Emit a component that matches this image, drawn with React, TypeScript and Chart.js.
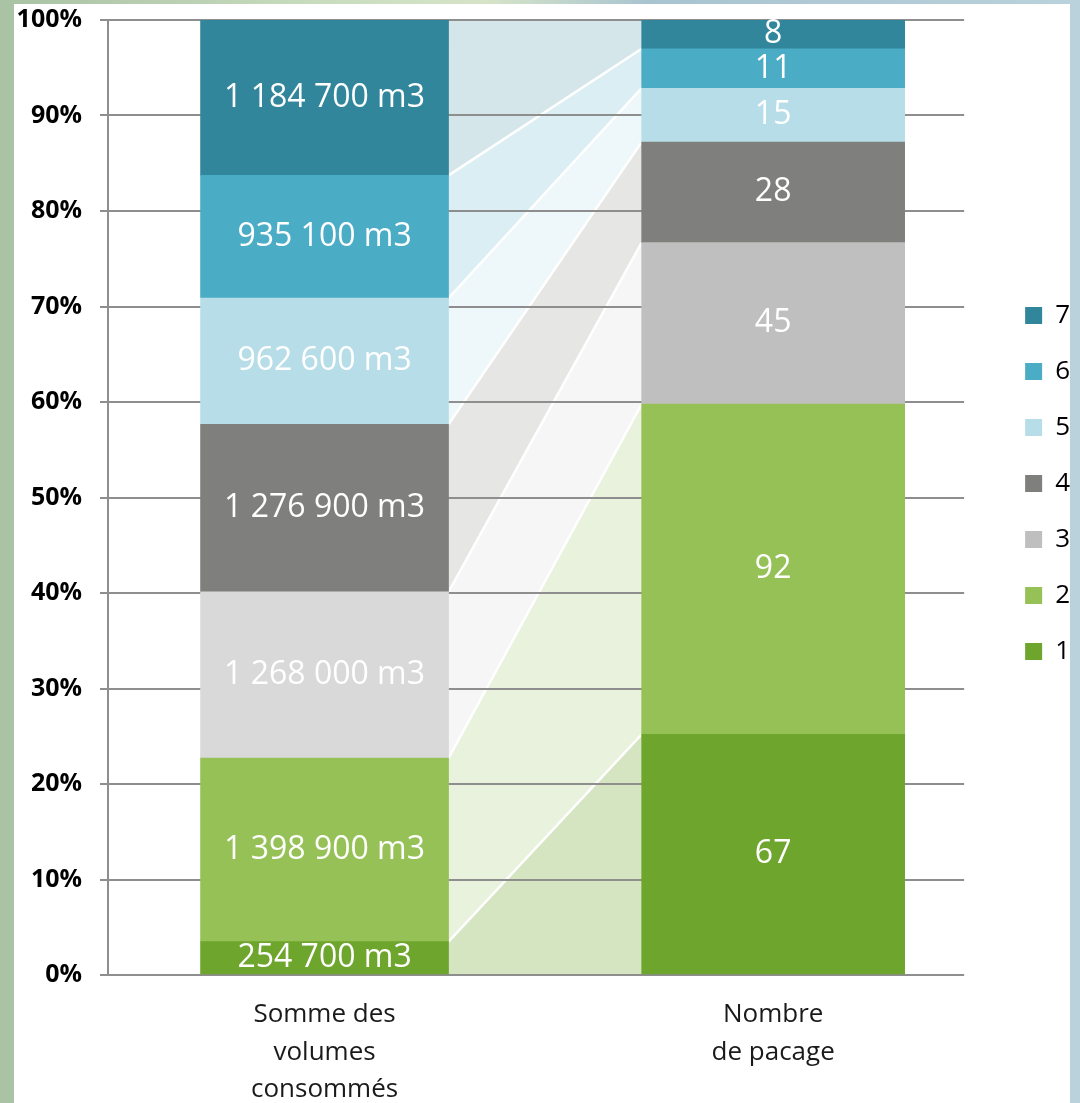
import React, { useEffect, useRef } from 'react';
import { Chart, registerables } from 'chart.js';

Chart.register(...registerables);

// ---- Data ----
const categories: string[][] = [
  ['Somme des', 'volumes', 'consommés'],
  ['Nombre', 'de pacage'],
];
const seriesNames = ['1', '2', '3', '4', '5', '6', '7'];
const volumes = [254700, 1398900, 1268000, 1276900, 962600, 935100, 1184700];
const pacages = [67, 92, 45, 28, 15, 11, 8];
const yTickStep = 10;

// ---- Styles ----
const leftColors = ['#6ea52d', '#96c156', '#d9d9d9', '#7f7f7e', '#b7dee8', '#4bacc6', '#31869b'];
const rightColors = ['#6ea52d', '#96c156', '#bfbfbf', '#7f7f7e', '#b7dee8', '#4bacc6', '#31869b'];
const bandColors = ['#d5e4c1', '#e9f2dd', '#f6f6f6', '#e6e6e5', '#eef7f9', '#dbeef4', '#d5e6eb'];
const FONT = '"Open Sans", "DejaVu Sans", sans-serif';
const GRID = '#8e8e8e';

const totalV = volumes.reduce((a, b) => a + b, 0);
const totalP = pacages.reduce((a, b) => a + b, 0);

const fmtVol = (v: number) => String(v).replace(/\B(?=(\d{3})+(?!\d))/g, ' ') + ' m3';

const bandPlugin = {
  id: 'bands',
  beforeDraw(chart: any) {
    const ctx = chart.ctx;
    const n = seriesNames.length;
    const segs: any[] = [];
    for (let k = 0; k < n; k++) {
      const L = chart.getDatasetMeta(k).data[0];
      const R = chart.getDatasetMeta(k + n).data[0];
      if (!L || !R) return;
      segs.push({ L, R });
    }
    ctx.save();
    for (let k = 0; k < n; k++) {
      const { L, R } = segs[k];
      const xL = L.x + L.width / 2;
      const xR = R.x - R.width / 2;
      ctx.beginPath();
      ctx.moveTo(xL, L.y);
      ctx.lineTo(xR, R.y);
      ctx.lineTo(xR, R.base);
      ctx.lineTo(xL, L.base);
      ctx.closePath();
      ctx.fillStyle = bandColors[k];
      ctx.fill();
    }
    ctx.strokeStyle = '#ffffff';
    ctx.lineWidth = 2.5;
    for (let k = 0; k < n - 1; k++) {
      const { L, R } = segs[k];
      const xL = L.x + L.width / 2;
      const xR = R.x - R.width / 2;
      ctx.beginPath();
      ctx.moveTo(xL, L.y);
      ctx.lineTo(xR, R.y);
      ctx.stroke();
    }
    ctx.restore();
  },
};

const labelPlugin = {
  id: 'segLabels',
  afterDatasetsDraw(chart: any) {
    const ctx = chart.ctx;
    ctx.save();
    ctx.font = `32px ${FONT}`;
    ctx.fillStyle = '#ffffff';
    ctx.textAlign = 'center';
    ctx.textBaseline = 'middle';
    chart.data.datasets.forEach((ds: any, i: number) => {
      const el = chart.getDatasetMeta(i).data[0];
      if (!el) return;
      ctx.fillText(ds.valueText, el.x, (el.y + el.base) / 2);
    });
    ctx.restore();
  },
};

const legendShift = {
  id: 'legendShift',
  afterLayout(chart: any) {
    const lg = chart.legend;
    if (lg) {
      lg.top -= 14;
      lg.bottom -= 14;
    }
  },
};

export default function App() {
  const ref = useRef<HTMLCanvasElement | null>(null);

  useEffect(() => {
    if (!ref.current) return;
    const left = seriesNames.map((name, i) => ({
      label: name,
      data: [{ x: 0, y: (volumes[i] / totalV) * 100 }],
      valueText: fmtVol(volumes[i]),
      backgroundColor: leftColors[i],
      borderWidth: 0,
      barThickness: 248,
      stack: 's',
    }));
    const right = seriesNames.map((name, i) => ({
      label: name,
      data: [{ x: 1, y: (pacages[i] / totalP) * 100 }],
      valueText: String(pacages[i]),
      backgroundColor: rightColors[i],
      borderWidth: 0,
      barThickness: 263,
      stack: 's',
    }));

    const chart = new Chart(ref.current, {
      type: 'bar',
      data: { datasets: [...left, ...right] as any },
      plugins: [bandPlugin, labelPlugin, legendShift],
      options: {
        responsive: false,
        maintainAspectRatio: false,
        animation: false,
        layout: { padding: { top: 20, left: 0, right: 0, bottom: 0 } },
        plugins: {
          tooltip: { enabled: false },
          legend: {
            position: 'right',
            align: 'center',
            fullSize: false,
            reverse: true,
            labels: {
              boxWidth: 17,
              boxHeight: 17,
              padding: 30,
              color: '#000000',
              font: { family: FONT, size: 26 },
              filter: (item: any) => item.datasetIndex >= seriesNames.length,
            },
          },
        },
        scales: {
          x: {
            type: 'linear',
            min: -0.4827,
            max: 1.4257,
            bounds: 'data',
            offset: false,
            stacked: true,
            grid: { display: false, drawTicks: false },
            border: { display: false },
            afterBuildTicks: (s: any) => {
              s.ticks = categories.map((_, i) => ({ value: i }));
            },
            afterFit: (s: any) => {
              s.height = 128;
            },
            ticks: {
              autoSkip: false,
              maxRotation: 0,
              minRotation: 0,
              padding: 21,
              color: '#1a1a1a',
              font: { family: FONT, size: 26, lineHeight: 1.44 },
              callback: (v: any) => categories[Math.round(v)] ?? '',
            },
          },
          y: {
            type: 'linear',
            min: 0,
            max: 100,
            stacked: true,
            afterFit: (s: any) => {
              s.width = 108;
              s.paddingTop = 10;
              s.paddingBottom = 10;
            },
            grid: { color: GRID, lineWidth: 2, tickLength: 8, drawTicks: true },
            border: { display: true, color: GRID, width: 2 },
            ticks: {
              stepSize: yTickStep,
              padding: 18,
              color: '#000000',
              font: { family: FONT, size: 25, weight: 'bold' },
              callback: (v: any) => `${v}%`,
            },
          },
          yR: {
            type: 'linear',
            position: 'right',
            display: true,
            grid: { display: false, drawTicks: false },
            border: { display: false },
            ticks: { display: false },
            afterFit: (s: any) => {
              s.width = 31;
              s.paddingTop = 0;
              s.paddingBottom = 0;
            },
          },
        },
      } as any,
    });
    return () => chart.destroy();
  }, []);

  return (
    <div
      style={{
        position: 'fixed',
        left: 0,
        top: 0,
        width: 1080,
        height: 1103,
        overflow: 'hidden',
        background:
          'linear-gradient(90deg, #a9c2a4 0%, #c9dcbe 30%, #d6e4c8 45%, #a8c4d0 60%, #b9d2dc 100%)',
      }}
    >
      <div
        style={{
          position: 'absolute',
          left: 14,
          top: 4,
          width: 1056,
          height: 1099,
          background: '#ffffff',
        }}
      />
      <canvas
        ref={ref}
        width={1080}
        height={1103}
        style={{ position: 'absolute', left: 0, top: 0, width: 1080, height: 1103 }}
      />
    </div>
  );
}
